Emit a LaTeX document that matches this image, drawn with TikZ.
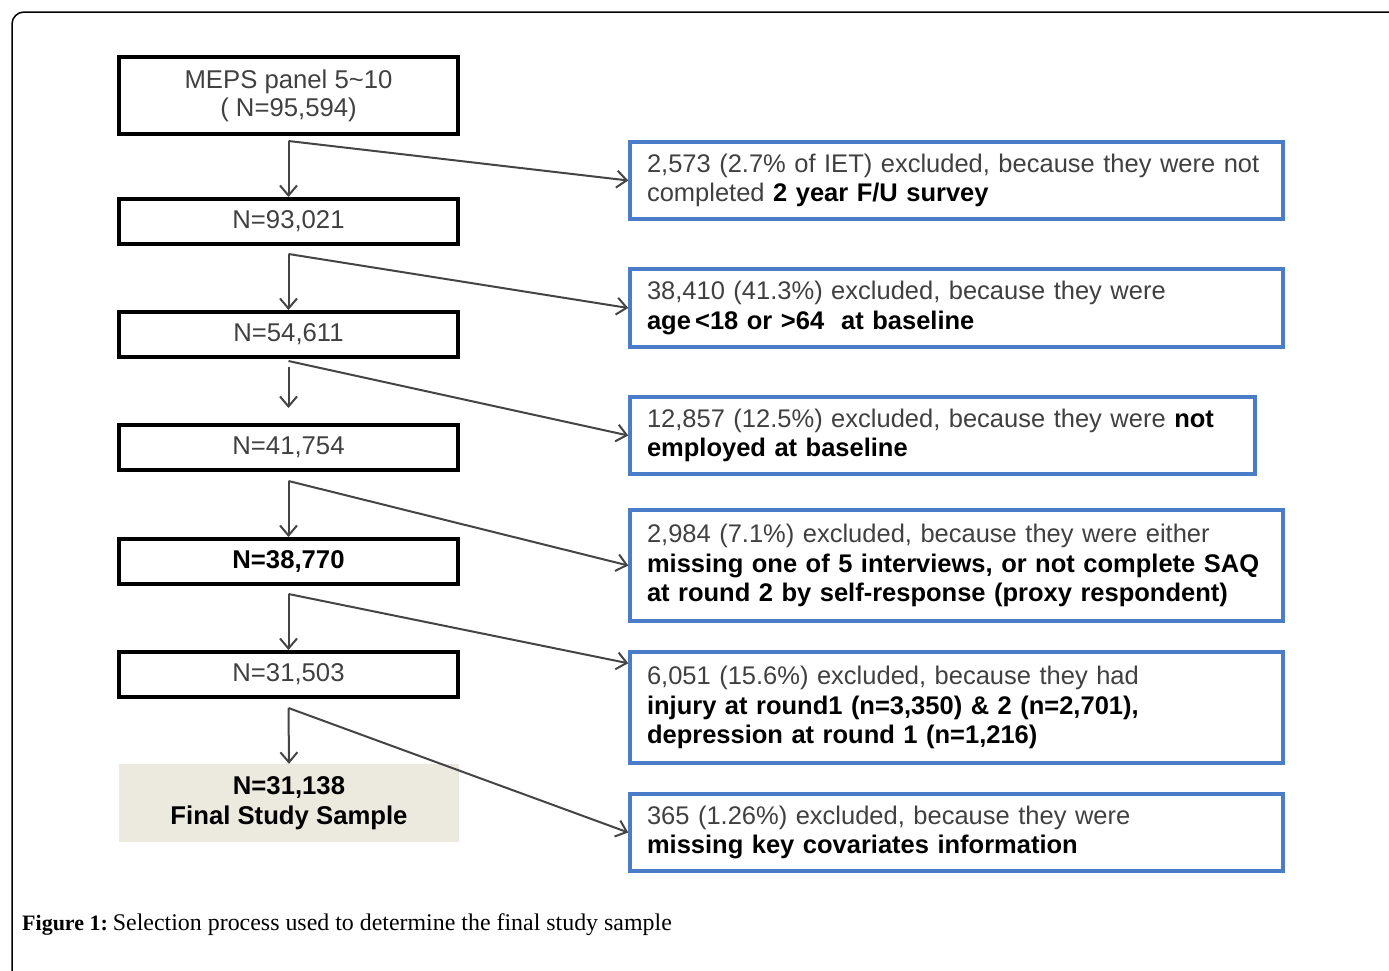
\documentclass[tikz,border=0pt]{standalone}
\usepackage{fontspec}
\setmainfont{Liberation Sans}
\newfontfamily\capfont{Liberation Serif}
\usetikzlibrary{arrows.meta}
\definecolor{boxblue}{HTML}{4A7CC7}
\definecolor{txtgray}{HTML}{404040}
\definecolor{arrgray}{HTML}{444444}
\definecolor{finalfill}{HTML}{ECE9DF}
\newcommand\bfx[1]{\textbf{\color{black}#1}}
\begin{document}
\begin{tikzpicture}[x=1pt,y=-1pt,
  lbox/.style={draw=black, line width=4pt, minimum width=339pt, minimum height=45pt,
    inner sep=0pt, align=center, text=txtgray, font=\fontsize{25.7}{28}\selectfont},
  rbox/.style={draw=boxblue, line width=3.5pt, inner xsep=17pt, inner ysep=0pt,
    align=left, text=txtgray, font=\fontsize{25.5}{29.5}\selectfont},
  arr/.style={draw=arrgray, line width=2pt, -{Straight Barb[length=10pt,width=17pt]}}]
\useasboundingbox (0,0) rectangle (1389,970);
\begin{scope}
\clip (0,0) rectangle (1389,970);
\draw[line width=1.5pt, rounded corners=12pt] (12,12) rectangle (1420,1010);
\end{scope}

% left column
\node[lbox, minimum height=77pt] (b1) at (288.5,95.5) {MEPS panel 5\textasciitilde10\\( N=95,594)};
\node[lbox] (b2) at (288.5,221.5) {N=93,021};
\node[lbox] (b3) at (288.5,334.5) {N=54,611};
\node[lbox] (b4) at (288.5,447.5) {N=41,754};
\node[lbox] (b5) at (288.5,561.5) {\bfx{N=38,770}};
\node[lbox] (b6) at (288.5,674.5) {N=31,503};
\node[fill=finalfill, minimum width=340pt, minimum height=78pt, inner sep=0pt, align=center,
  font=\fontsize{25.7}{30}\selectfont\bfseries] (fin) at (289,803) {N=31,138\\Final Study Sample};

% right column
\node[rbox, text width=619pt, minimum height=77pt] (r1) at (956.5,180.5)
 {\mbox{2,573 (2.7\% of IET) excluded, because they were not}\\\mbox{completed \bfx{2 year F/U survey}}};
\node[rbox, text width=619pt, minimum height=78pt] (r2) at (956.5,308)
 {\mbox{38,410 (41.3\%) excluded, because they were}\\\mbox{\bfx{age\,<18 or >64\ \ at baseline}}};
\node[rbox, text width=591pt, minimum height=77pt] (r3) at (942.5,435.5)
 {\mbox{12,857 (12.5\%) excluded, because they were \bfx{not}}\\\mbox{\bfx{employed at baseline}}};
\node[rbox, text width=619pt, minimum height=111pt] (r4) at (956.5,565.5)
 {\mbox{2,984 (7.1\%) excluded, because they were either}\\\mbox{\bfx{missing one of 5 interviews, or not complete SAQ}}\\\mbox{\bfx{at round 2 by self-response (proxy respondent)}}};
\node[rbox, text width=619pt, minimum height=111pt] (r5) at (956.5,707.5)
 {\mbox{6,051 (15.6\%) excluded, because they had}\\\mbox{\bfx{injury at round1 (n=3,350) \& 2 (n=2,701),}}\\\mbox{\bfx{depression at round 1 (n=1,216)}}};
\node[rbox, text width=619pt, minimum height=77pt] (r6) at (956.5,832.5)
 {\mbox{365 (1.26\%) excluded, because they were}\\\mbox{\bfx{missing key covariates information}}};

% connector start / end points
\coordinate (s1) at ([yshift=-5pt]b1.south);
\coordinate (s2) at ([yshift=-8pt]b2.south);
\coordinate (s3) at ([yshift=-2pt]b3.south);
\coordinate (v3) at ([yshift=-8pt]b3.south);
\coordinate (t4) at ([yshift=15pt]b4.north);
\coordinate (s4) at ([yshift=-9pt]b4.south);
\coordinate (s5) at ([yshift=-8pt]b5.south);
\coordinate (s6) at ([yshift=-9pt]b6.south);
\coordinate (e5) at ([yshift=-13pt]r5.north west);

% vertical arrows
\draw[arr] (s1) -- (b2.north);
\draw[arr] (s2) -- (b3.north);
\draw[arr] (v3) -- (t4);
\draw[arr] (s4) -- (b5.north);
\draw[arr] (s5) -- (b6.north);
\draw[arr] (s6) -- (fin.north);

% diagonal arrows
\draw[arr] (s1) -- (r1.west);
\draw[arr] (s2) -- (r2.west);
\draw[arr] (s3) -- (r3.west);
\draw[arr] (s4) -- (r4.west);
\draw[arr] (s5) -- (e5);
\draw[arr] (s6) -- (r6.west);

% caption
\node[anchor=base west, inner sep=0pt, font=\capfont\fontsize{23.9}{26}\selectfont] (cap) at (22,930)
 {{\fontsize{22}{26}\selectfont\textbf{Figure 1:}}\hspace{5pt}Selection process used to determine the final study sample};
\end{tikzpicture}
\end{document}
